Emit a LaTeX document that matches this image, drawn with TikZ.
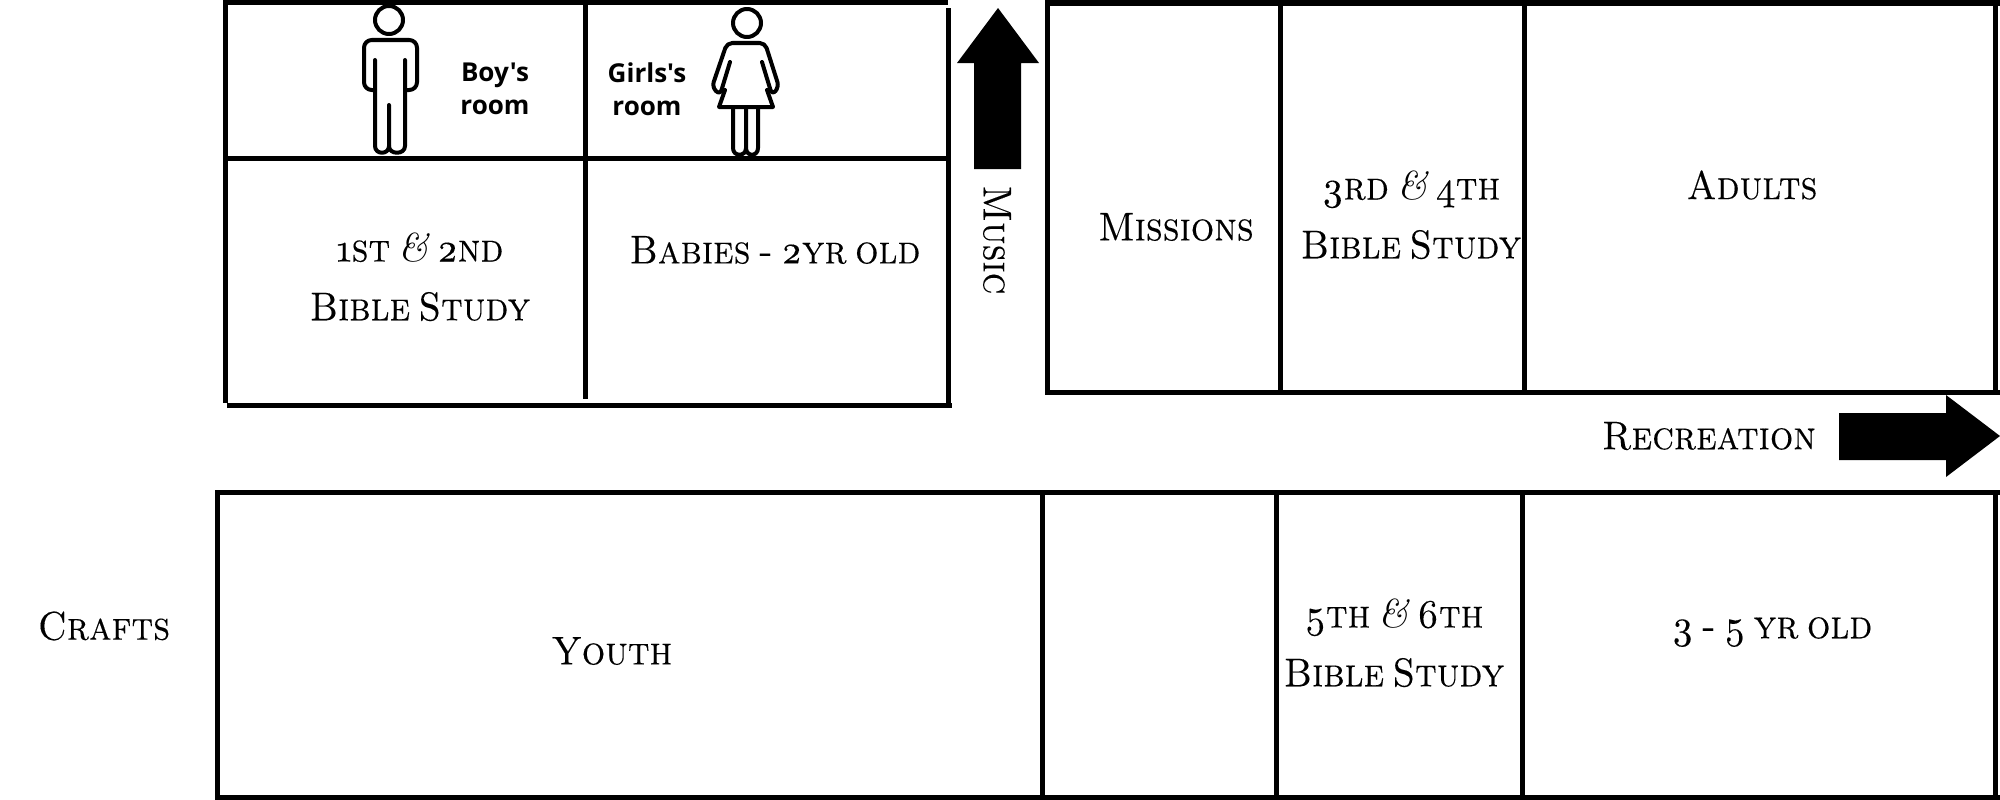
\documentclass[tikz,border=0pt]{standalone}
\usepackage{fontspec}
\setmainfont{Latin Modern Roman}
\newfontfamily\capsfont[Numbers=OldStyle,FakeStretch=0.92,FakeBold=0.2,WordSpace=0.6]{Latin Modern Roman Caps}
\newfontfamily\ampfont{Latin Modern Roman}
\newfontfamily\signfont{Open Sans}
\tikzset{
  wall/.style={line width=5*0.2845pt,black},
  figure/.style={line width=4*0.2845pt,black,line cap=round,line join=round},
  roomlabel/.style={font=\fontsize{11.4}{14.2}\capsfont\selectfont,align=center,inner sep=0pt},
  signlabel/.style={font=\signfont\bfseries\fontsize{7.4}{9.3}\selectfont,align=center,inner sep=0pt}
}
\newcommand{\ampsign}{{\ampfont\itshape\&}}
\begin{document}
\begin{tikzpicture}[x=0.01cm,y=-0.01cm]
    \useasboundingbox (0,0) rectangle (2000,800);
    % upper left block
    \draw[wall] (225,2) -- (948,2);
    \draw[wall] (225,0) -- (225,403);
    \draw[wall] (227,405) -- (952,405);
    \draw[wall] (948,8) -- (948,403);
    \draw[wall] (225,158) -- (950,158);
    \draw[wall] (585,0) -- (585,156);
    \draw[wall] (585,160) -- (585,399);
    % upper right block
    \draw[wall] (1047,392) -- (1047,3) -- (2000,3);
    \draw[wall] (1045,392) -- (2000,392);
    \draw[wall] (1280,3) -- (1280,392);
    \draw[wall] (1524,3) -- (1524,392);
    \draw[wall] (1995,3) -- (1995,390);
    % lower block
    \draw[wall] (217,800) -- (217,492) -- (2000,492);
    \draw[wall] (215,797) -- (2000,797);
    \draw[wall] (1042,492) -- (1042,797);
    \draw[wall] (1276,492) -- (1276,797);
    \draw[wall] (1522,492) -- (1522,797);
    \draw[wall] (1995,492) -- (1995,797);
    % block arrows
    \fill[black] (998,8) -- (1039,63) -- (1021,63) -- (1021,169) -- (974,169) -- (974,63) -- (957,63) -- cycle;
    \fill[black] (2000,436) -- (1946,477) -- (1946,460) -- (1839,460) -- (1839,413) -- (1946,413) -- (1946,395) -- cycle;
    % boy
    \draw[figure] (389,20) circle[radius=14];
    \draw[figure,rounded corners=2.2pt] (375,90) -- (364,90) -- (364,40) -- (417,40) -- (417,90) -- (405,90);
    \draw[figure] (375,60) -- (375,146) .. controls (375,155) and (389,155) .. (389,146) -- (389,105);
    \draw[figure] (389,146) .. controls (389,155) and (405,155) .. (405,146) -- (405,60);
    % girl
    \draw[figure] (747,23) circle[radius=14];
    \draw[figure,rounded corners=1.5pt] (730,62) -- (720,95) -- (712,87) -- (727,43) -- (765,43) -- (779,87) -- (772,95) -- (762,62);
    \draw[figure] (725,90) -- (719,107) -- (773,107) -- (767,90);
    \draw[figure] (733,107) -- (733,148) .. controls (733,157) and (746,157) .. (746,148) -- (746,107);
    \draw[figure] (746,148) .. controls (746,157) and (758,157) .. (758,148) -- (758,107);
    % rooms
    \node[signlabel] (boys) at (495,89) {Boy's\\room};
    \node[signlabel] (girls) at (647,89) {Girls's\\room};
    \node[roomlabel] (firstsecond) at (420,277) {1st \ampsign{} 2nd\\[0.22em]Bible Study};
    \node[roomlabel] (babies) at (775,250) {Babies - 2yr old};
    \node[roomlabel,rotate=-90] (music) at (997,240) {Music};
    \node[roomlabel] (missions) at (1176,227) {Missions};
    \node[roomlabel] (thirdfourth) at (1411,215) {3rd \ampsign{} 4th\\[0.22em]Bible Study};
    \node[roomlabel] (adults) at (1752,185) {Adults};
    \node[roomlabel] (recreation) at (1709,436) {Recreation};
    \node[roomlabel] (crafts) at (104,626) {Crafts};
    \node[roomlabel] (youth) at (612,651) {Youth};
    \node[roomlabel] (fifthsixth) at (1394,643) {5th \ampsign{} 6th\\[0.22em]Bible Study};
    \node[roomlabel] (preschool) at (1772,632) {3 - 5 yr old};
\end{tikzpicture}
\end{document}
